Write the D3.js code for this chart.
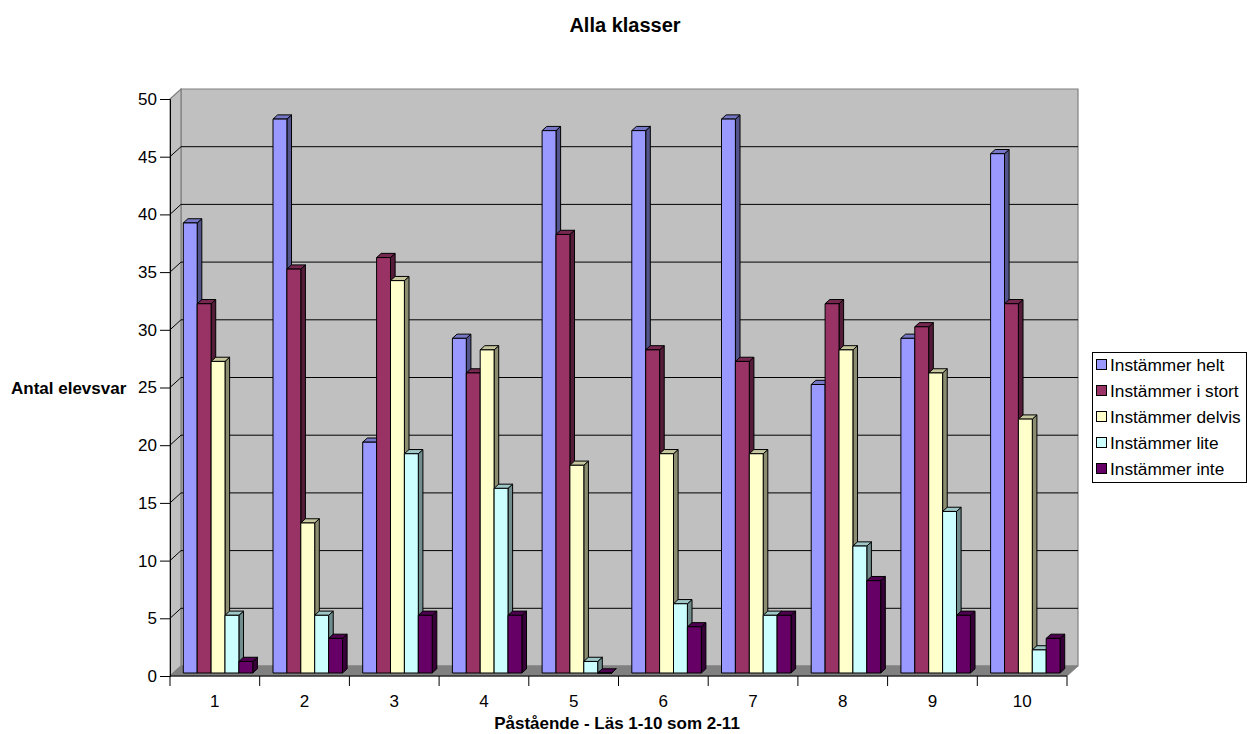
<!DOCTYPE html>
<html>
<head>
<meta charset="utf-8">
<script src="https://cdn.jsdelivr.net/npm/d3@7/dist/d3.min.js"></script>
<style>
  html, body { margin: 0; padding: 0; background: #fff; }
  svg { display: block; font-family: "Liberation Sans", Arial, sans-serif; }
</style>
</head>
<body>
<svg id="chart" width="1247" height="734"></svg>
<script>
// Survey answers per statement
const categories = ["1", "2", "3", "4", "5", "6", "7", "8", "9", "10"];
const seriesNames = ["Instämmer helt", "Instämmer i stort", "Instämmer delvis", "Instämmer lite", "Instämmer inte"];
const seriesColors = ["#9999FF", "#993366", "#FFFFCC", "#CCFFFF", "#660066"];
const helt    = [39, 48, 20, 29, 47, 47, 48, 25, 29, 45];
const iStort  = [32, 35, 36, 26, 38, 28, 27, 32, 30, 32];
const delvis  = [27, 13, 34, 28, 18, 19, 19, 28, 26, 22];
const lite    = [5, 5, 19, 16, 1, 6, 5, 11, 14, 2];
const inte    = [1, 3, 5, 5, 0, 4, 5, 8, 5, 3];
const seriesValues = [helt, iStort, delvis, lite, inte];
const yTicks = [0, 5, 10, 15, 20, 25, 30, 35, 40, 45, 50];

const svg = d3.select("#chart");
const FONT = 17;
const LEGEND_FONT = 17.3;

// front plane geometry and the depth offset of the back wall
const x0 = 170, x1 = 1067, yBottom = 676, yTop = 99;
const wallDx = 11, wallDy = -10;
// bars sit in the middle of the depth
const barFz = 0.3, barBz = 0.72;

const x = d3.scaleBand().domain(categories).range([x0, x1]).paddingInner(0).paddingOuter(0);
const xs = d3.scaleBand().domain(seriesNames)
  .range([13.3 - barFz * wallDx, 13.3 - barFz * wallDx + 5 * 13.9]).padding(0);
const y = d3.scaleLinear().domain([0, 50]).range([yBottom, yTop]);

const proj = (px, py, z) => [px + wallDx * z, py + wallDy * z];
const poly = pts => "M" + pts.map(p => p.join(",")).join("L") + "Z";

const g = svg.append("g");

// back wall
g.append("path")
  .attr("d", poly([proj(x0, y(50), 1), proj(x1, y(50), 1), proj(x1, y(0), 1), proj(x0, y(0), 1)]))
  .attr("fill", "#C0C0C0").attr("stroke", "#808080").attr("stroke-width", 1.2);
// side wall
g.append("path")
  .attr("d", poly([proj(x0, y(50), 0), proj(x0, y(50), 1), proj(x0, y(0), 1), proj(x0, y(0), 0)]))
  .attr("fill", "#C0C0C0").attr("stroke", "#808080").attr("stroke-width", 1.2);
// floor
g.append("path")
  .attr("d", poly([proj(x0, y(0), 0), proj(x1, y(0), 0), proj(x1, y(0), 1), proj(x0, y(0), 1)]))
  .attr("fill", "#808080").attr("stroke", "#808080");

// gridlines on back and side wall
const gridVals = yTicks.filter(v => v > 0 && v < 50);
g.selectAll(".grid").data(gridVals).join("path")
  .attr("d", v => "M" + proj(x0, y(v), 0).join(",") + "L" + proj(x0, y(v), 1).join(",") + "L" + proj(x1, y(v), 1).join(","))
  .attr("fill", "none").attr("stroke", "#000").attr("stroke-width", 1);

// bars
const shade = (c, k) => { const r = d3.rgb(c); return d3.rgb(r.r * k, r.g * k, r.b * k).toString(); };
const bars = [];
categories.forEach((c, ci) => {
  seriesNames.forEach((s, si) => {
    bars.push({ c, s, si, v: seriesValues[si][ci] });
  });
});
const barG = g.append("g");
bars.forEach(b => {
  const left = x(b.c) + xs(b.s), right = left + xs.bandwidth();
  const yb = y(0), yt = y(b.v);
  const col = seriesColors[b.si];
  const bg = barG.append("g").attr("stroke", "#000").attr("stroke-width", 1).attr("stroke-linejoin", "round");
  // side
  bg.append("path")
    .attr("d", poly([proj(right, yt, barFz), proj(right, yt, barBz), proj(right, yb, barBz), proj(right, yb, barFz)]))
    .attr("fill", shade(col, 0.55));
  // top
  bg.append("path")
    .attr("d", poly([proj(left, yt, barFz), proj(right, yt, barFz), proj(right, yt, barBz), proj(left, yt, barBz)]))
    .attr("fill", shade(col, 0.78));
  // front
  bg.append("path")
    .attr("d", poly([proj(left, yt, barFz), proj(right, yt, barFz), proj(right, yb, barFz), proj(left, yb, barFz)]))
    .attr("fill", col);
});

// y axis
const yAxis = d3.axisLeft(y).tickValues(yTicks).tickSize(10).tickPadding(3);
const ya = svg.append("g").attr("transform", `translate(${x0},0)`).call(yAxis);
ya.select(".domain").attr("stroke", "#000");
ya.selectAll(".tick line").attr("stroke", "#000");
ya.selectAll("text").attr("font-size", FONT).attr("fill", "#000")
  .attr("font-family", "'Liberation Sans', Arial, sans-serif");

// x axis with ticks at category boundaries
const xa = svg.append("g").attr("transform", `translate(0,${yBottom})`);
xa.append("line").attr("x1", x0).attr("x2", x1).attr("stroke", "#000");
const bounds = categories.map(c => x(c)).concat([x1]);
xa.selectAll(".xt").data(bounds).join("line")
  .attr("x1", d => d).attr("x2", d => d).attr("y1", 0).attr("y2", 10).attr("stroke", "#000");
xa.selectAll(".xl").data(categories).join("text")
  .attr("x", d => x(d) + x.bandwidth() / 2).attr("y", 31)
  .attr("text-anchor", "middle").attr("font-size", FONT).text(d => d);

// titles
svg.append("text").attr("x", 625).attr("y", 32).attr("text-anchor", "middle")
  .attr("font-size", 20).attr("font-weight", "bold").text("Alla klasser");
svg.append("text").attr("x", 617).attr("y", 729).attr("text-anchor", "middle")
  .attr("font-size", FONT).attr("font-weight", "bold").text("Påstående - Läs 1-10 som 2-11");
svg.append("text").attr("x", 11).attr("y", 394)
  .attr("font-size", FONT).attr("font-weight", "bold").text("Antal elevsvar");

// legend
const lg = svg.append("g");
lg.append("rect").attr("x", 1092.5).attr("y", 352.5).attr("width", 154).attr("height", 130)
  .attr("fill", "#fff").attr("stroke", "#000");
const items = lg.selectAll(".li").data(seriesNames).join("g")
  .attr("transform", (d, i) => `translate(1096,${365 + i * 26})`);
items.append("rect").attr("x", 0.5).attr("y", -5.5).attr("width", 10).attr("height", 10)
  .attr("fill", (d, i) => seriesColors[i]).attr("stroke", "#000");
items.append("text").attr("x", 14).attr("y", 6).attr("font-size", LEGEND_FONT).text(d => d);
</script>
</body>
</html>
